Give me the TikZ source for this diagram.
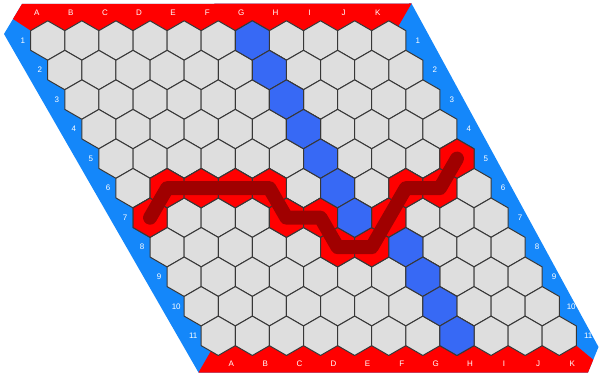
\documentclass[tikz,border=0pt]{standalone}
\usepackage{fontspec}
\setsansfont{Liberation Sans}
\definecolor{bordblue}{RGB}{20,135,250}
\definecolor{bordred}{RGB}{255,0,0}
\definecolor{hexgray}{RGB}{222,222,222}
\definecolor{hexblue}{RGB}{55,105,245}
\definecolor{hexred}{RGB}{255,0,0}
\definecolor{pathred}{RGB}{160,0,0}
\definecolor{hexline}{RGB}{55,55,55}
\tikzset{
  hexcell/.style={draw=hexline, line width=1pt, line join=round},
  lab/.style={text=white, font=\sffamily\fontsize{8}{9}\selectfont, inner sep=0pt},
  winpath/.style={draw=pathred, line width=14pt, line cap=round, line join=round},
}
\newcommand\hexR{19.69}
\newcommand\drawhex[3]{%
  \filldraw[hexcell, fill=#3] (h-#1-#2) +(30:\hexR) -- +(90:\hexR) -- +(150:\hexR) -- +(210:\hexR) -- +(270:\hexR) -- +(330:\hexR) -- cycle;}
\begin{document}
\begin{tikzpicture}[x=1pt,y=-1pt]
\useasboundingbox (0,0) rectangle (601,374);
% outer blue frame
\fill[bordblue] (22,4) -- (411.5,3.5) -- (598.5,347) -- (588,372.5) -- (198.5,372.5) -- (4,34) -- cycle;
% top red band
\fill[bordred] (22,4) -- (411.5,3.5) -- (398.3,26.3)
  \foreach \c in {10,9,...,0} { -- ({47.75+34.1*\c},20.81) -- ({47.75+34.1*\c-17.05},30.66) }
  -- (13,19) -- cycle;
% bottom red band
\fill[bordred] (198.5,372.5) -- (210.8,351.2)
  \foreach \c in {0,...,10} { -- ({218.25+34.1*\c},355.49) -- ({218.25+34.1*\c+17.05},345.65) }
  -- (593.25,359.75) -- (588,372.5) -- cycle;
% cells
\foreach \r in {0,...,10}{\foreach \c in {0,...,10}{
  \coordinate (h-\r-\c) at ({47.75+34.1*\c+17.05*\r},{40.5+29.53*\r});
  \drawhex{\r}{\c}{hexgray}}}
\foreach \r/\c in {6/0,5/1,5/2,5/3,5/4,6/4,6/5,7/5,7/6,6/7,5/8,5/9,4/10}{\drawhex{\r}{\c}{hexred}}
\foreach \r/\c in {0/6,1/6,2/6,3/6,4/6,5/6,6/6,7/7,8/7,9/7,10/7}{\drawhex{\r}{\c}{hexblue}}
% winning path
\draw[winpath] (h-6-0) -- (h-5-1) -- (h-5-2) -- (h-5-3) -- (h-5-4) -- (h-6-4) -- (h-6-5) -- (h-7-5) -- (h-7-6) -- (h-6-7) -- (h-5-8) -- (h-5-9) -- (h-4-10);
% labels
\foreach \l [count=\i from 0] in {A,B,C,D,E,F,G,H,I,J,K}{
  \node[lab] (t\l) at ({47.75+34.1*\i-11},12.5) {\l};
  \node[lab] (b\l) at ({218.25+34.1*\i+13},363.5) {\l};
}
\foreach \n [count=\i from 0] in {1,...,11}{
  \node[lab] (l\n) at ({47.75+17.05*\i-25},{40.5+29.53*\i}) {\n};
  \node[lab] (r\n) at ({388.75+17.05*\i+29},{40.5+29.53*\i}) {\n};
}
\end{tikzpicture}
\end{document}
